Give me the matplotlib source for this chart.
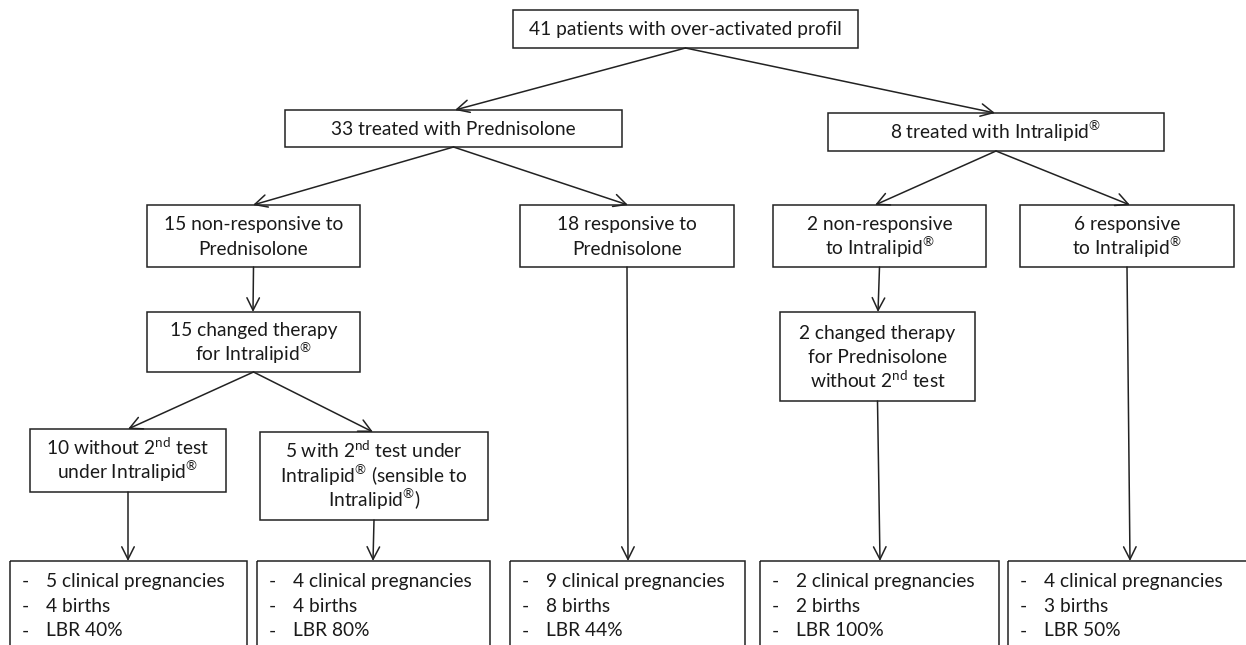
import matplotlib
matplotlib.use("Agg")
import matplotlib.pyplot as plt
from matplotlib.patches import Rectangle

plt.rcParams["font.family"] = ["Lato", "DejaVu Sans"]
plt.rcParams["mathtext.fontset"] = "custom"
plt.rcParams["mathtext.rm"] = "Lato"

# ---------- labels ----------
SUP_ND = r"$^{\mathregular{nd}}$"
REG = r"$^{\mathregular{®}}$"

top_label = "41 patients with over-activated profil"
arm_labels = ["33 treated with Prednisolone", "8 treated with Intralipid" + REG]
response_labels = [
    "15 non-responsive to\nPrednisolone",
    "18 responsive to\nPrednisolone",
    "2 non-responsive\nto Intralipid" + REG,
    "6 responsive\nto Intralipid" + REG,
]
switch_labels = [
    "15 changed therapy\nfor Intralipid" + REG,
    "2 changed therapy\nfor Prednisolone\nwithout 2" + SUP_ND + " test",
]
retest_labels = [
    "10 without 2" + SUP_ND + " test\nunder Intralipid" + REG,
    "5 with 2" + SUP_ND + " test under\nIntralipid" + REG + " (sensible to\nIntralipid" + REG + ")",
]
pregnancies = [5, 4, 9, 2, 4]
births = [4, 4, 8, 2, 3]
lbr = [40, 80, 44, 100, 50]

# ---------- layout (pixel coords, y down) ----------
boxes = {
    "top": (513, 10, 858, 48),
    "pred": (285, 110, 622, 147),
    "intra": (828, 113, 1164, 151),
    "r0": (147, 205, 360, 267),
    "r1": (520, 205, 734, 267),
    "r2": (773, 205, 986, 267),
    "r3": (1020, 205, 1234, 267),
    "s0": (147, 312, 360, 372),
    "s1": (780, 312, 975, 401),
    "t0": (30, 429, 226, 492),
    "t1": (260, 432, 488, 520),
}
out_x = [(10, 247), (257, 490), (510, 745), (760, 999), (1008, 1260)]
OUT_TOP = 561

fig = plt.figure(figsize=(12.46, 6.45), dpi=100)
ax = fig.add_axes([0, 0, 1, 1])
ax.set_xlim(0, 1246)
ax.set_ylim(645, 0)
ax.axis("off")

FS = 13.8
LW = 1.1
LSP = 24.5      # line pitch in px
BASE = 6.5      # baseline offset from visual line centre
INK = "#1a1a1a"

def box(key, text):
    x0, y0, x1, y1 = boxes[key]
    ax.add_patch(Rectangle((x0, y0), x1 - x0, y1 - y0, fill=False, lw=LW, ec="#222222"))
    lines = text.split("\n")
    n = len(lines)
    cy = (y0 + y1) / 2
    for k, s in enumerate(lines):
        y = cy + (k - (n - 1) / 2) * LSP + BASE
        ax.text((x0 + x1) / 2, y, s, ha="center", va="baseline", fontsize=FS, color=INK)

def bot(key):
    x0, y0, x1, y1 = boxes[key]
    return ((x0 + x1) / 2, y1)

def arrow(p, q):
    ax.annotate("", xy=q, xytext=p,
                arrowprops=dict(arrowstyle="->,head_length=0.9,head_width=0.45",
                                lw=LW, color="#222222", shrinkA=0, shrinkB=0))

box("top", top_label)
box("pred", arm_labels[0])
box("intra", arm_labels[1])
for i, lab in enumerate(response_labels):
    box(f"r{i}", lab)
box("s0", switch_labels[0])
box("s1", switch_labels[1])
box("t0", retest_labels[0])
box("t1", retest_labels[1])

# outcome boxes (cut at bottom of figure)
for (x0, x1), p, b, l in zip(out_x, pregnancies, births, lbr):
    ax.add_patch(Rectangle((x0, OUT_TOP), x1 - x0, 200, fill=False, lw=LW, ec="#222222"))
    lines = [f"{p} clinical pregnancies", f"{b} births", f"LBR {l}%"]
    for k, s in enumerate(lines):
        y = OUT_TOP + 19 + k * 25 + BASE
        ax.text(x0 + 12, y, "-", ha="left", va="baseline", fontsize=FS, color=INK)
        ax.text(x0 + 36, y, s, ha="left", va="baseline", fontsize=FS, color=INK)

# arrows
arrow(bot("top"), (455, 110))
arrow(bot("top"), (995, 113))
arrow(bot("pred"), (253, 205))
arrow(bot("pred"), (628, 205))
arrow(bot("intra"), (875, 205))
arrow(bot("intra"), (1130, 205))
arrow(bot("r0"), (253, 312))
arrow(bot("s0"), (128, 429))
arrow(bot("s0"), (373, 432))
arrow(bot("r1"), (628, OUT_TOP))
arrow(bot("r2"), (878, 312))
arrow(bot("s1"), (880, OUT_TOP))
arrow(bot("r3"), (1130, OUT_TOP))
arrow(bot("t0"), (128, OUT_TOP))
arrow(bot("t1"), (373, OUT_TOP))

fig.savefig("out.png", dpi=100, facecolor="white")
